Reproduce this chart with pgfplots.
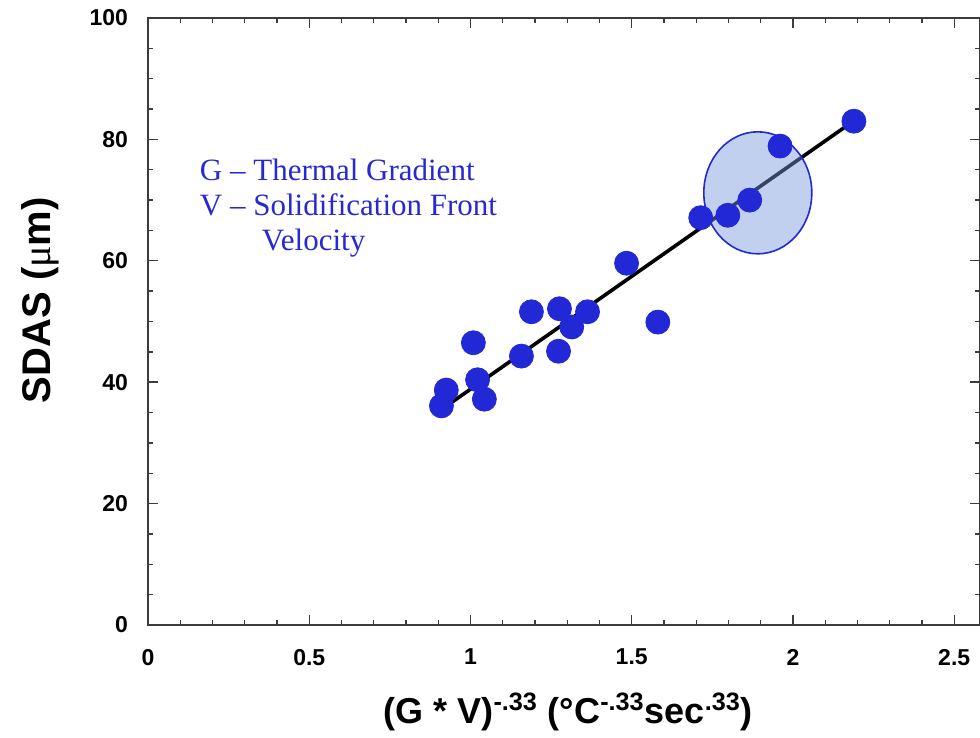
\documentclass[border=0pt]{standalone}
\usepackage{pgfplots}
\pgfplotsset{compat=1.18}
\usepackage{fontspec}
\setmainfont{Liberation Serif}
\setsansfont{Liberation Sans}
\definecolor{dotblue}{RGB}{35,40,215}
\definecolor{txtblue}{RGB}{40,40,210}
\definecolor{ellfill}{RGB}{120,150,220}
\definecolor{axgray}{RGB}{60,60,60}
\begin{document}
\begin{tikzpicture}
\begin{axis}[
  name=ax,
  scale only axis,
  width=416pt, height=303.5pt,
  xmin=0, xmax=2.58, ymin=0, ymax=100,
  xtick={0,0.5,1,1.5,2,2.5},
  ytick={0,20,40,60,80,100},
  minor x tick num=4,
  minor y tick num=3,
  tick align=inside,
  xtick pos=both, ytick pos=both,
  major tick length=5pt,
  minor tick length=2.5pt,
  axis line style={line width=0.9pt, color=axgray},
  every tick/.style={line width=0.7pt, color=axgray},
  /pgf/number format/assume math mode=true,
  tick label style={font=\sffamily\bfseries\fontsize{11.5}{13}\selectfont, color=black},
  xticklabel style={yshift=-8.5pt},
  yticklabel style={xshift=-6.5pt},
  every axis x label/.style={at={(axis description cs:0.505,0)}, yshift=-43.5pt, anchor=center},
  every axis y label/.style={at={(axis description cs:0,0.535)}, xshift=-54pt, rotate=90, anchor=center},
  xlabel={\sffamily\bfseries\fontsize{18}{20}\selectfont (G * V)\textsuperscript{-.33} (°C\textsuperscript{-.33}sec\textsuperscript{.33})},
  ylabel={\sffamily\bfseries\fontsize{20}{22}\selectfont SDAS ({\rmfamily\mdseries μ}m)},
  clip=false,
]
\addplot[black, line width=1.8pt] coordinates {(0.91,35.5) (2.19,83.1)};
\addplot[only marks, mark=*, mark size=6pt, color=dotblue, mark options={fill=dotblue, draw=dotblue}] coordinates {
(0.910,36.1) (0.925,38.7) (1.009,46.5) (1.022,40.4) (1.043,37.2)
(1.158,44.3) (1.189,51.6) (1.273,45.1) (1.276,52.1) (1.314,49.1)
(1.363,51.6) (1.484,59.6) (1.581,49.9) (1.714,67.1) (1.798,67.5)
(1.866,70.0) (1.960,78.9) (2.189,83.0)
};
\draw[draw=dotblue, line width=0.8pt, fill=ellfill, fill opacity=0.45] (axis cs:1.891,71.2) ellipse [x radius=27pt, y radius=30.5pt];
\node[anchor=north west, inner sep=0pt, align=left, text=txtblue, font=\rmfamily\fontsize{15.5}{17.5}\selectfont] at (axis cs:0.16,76.8)
 {G -- Thermal Gradient\\V -- Solidification Front\\\hspace{31pt}Velocity};
\end{axis}
\pgfresetboundingbox
\path ([shift={(-74pt,-56.5pt)}]ax.south west) rectangle ([shift={(0pt,9pt)}]ax.north east);
\end{tikzpicture}
\end{document}
